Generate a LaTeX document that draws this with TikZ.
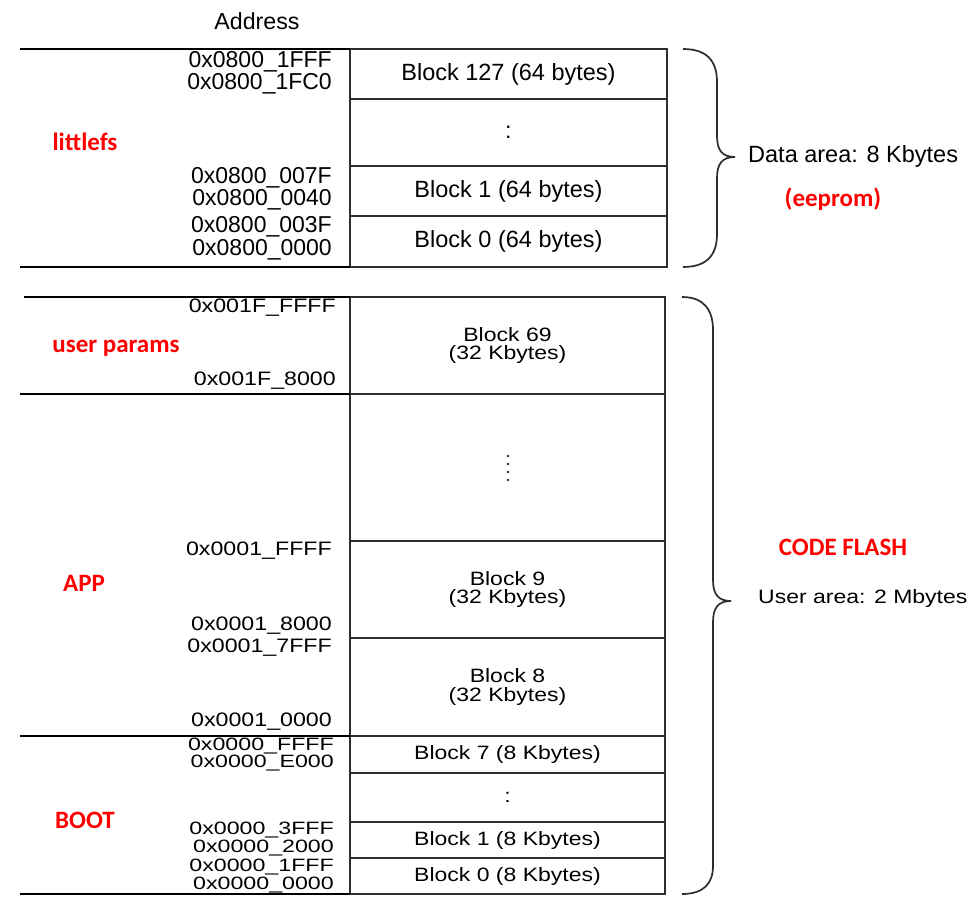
\documentclass[tikz,border=0pt]{standalone}
\usepackage{fontspec}
\usepackage{graphicx}
\setmainfont{Liberation Sans}
\newfontfamily\tagfont{Carlito}
\definecolor{boxgray}{RGB}{45,45,45}
\definecolor{tagred}{RGB}{255,0,0}
\newcommand\sq[1]{\scalebox{1}[0.84]{#1}}
\newcommand\sqa[1]{\scalebox{1}[0.77]{#1}}
\tikzset{
  rowbox/.style={draw=boxgray, line width=1.7pt, anchor=north west, inner sep=0pt, outer sep=0pt,
    align=center, font=\fontsize{23.5}{26}\selectfont},
  toprow/.style={rowbox, minimum width=317pt},
  lowrow/.style={rowbox, minimum width=315pt, font=\fontsize{23}{18.5}\selectfont},
  addr/.style={anchor=east, inner sep=0pt, font=\fontsize{23}{24}\selectfont},
  laddr/.style={anchor=east, inner sep=0pt, font=\fontsize{23.2}{24}\selectfont},
  tag/.style={inner sep=0pt, text=tagred, font=\tagfont\bfseries\fontsize{25}{28}\selectfont},
  note/.style={anchor=west, inner sep=0pt, font=\fontsize{23.5}{26}\selectfont},
  hline/.style={line width=2.2pt, black},
  brace/.style={line width=1.7pt, boxgray}
}
\begin{document}
\begin{tikzpicture}[x=1pt,y=-1pt]
\useasboundingbox[fill=white] (0,0) rectangle (969,902);

% ---- data flash (eeprom) ----
\node[inner sep=0pt, font=\fontsize{23.2}{26}\selectfont] (hdr) at (257,21) {Address};

\node[toprow, minimum height=50pt] (d127) at (350,49) {Block 127 (64 bytes)};
\node[toprow, minimum height=67pt] (ddots) at (350,99) {:};
\node[toprow, minimum height=50pt] (d1) at (350,166) {Block 1 (64 bytes)};
\node[toprow, minimum height=51pt] (d0) at (350,216) {Block 0 (64 bytes)};

\coordinate (dtopL) at (20,49);
\coordinate (dbotL) at (20,267);
\draw[hline] (dtopL) -- (d127.north west);
\draw[hline] (dbotL) -- (d0.south west);

\node[addr] (a1) at (332,62) {0x0800\_1FFF};
\node[addr] (a2) at (332,84) {0x0800\_1FC0};
\node[addr] (a3) at (332,178) {0x0800\_007F};
\node[addr] (a4) at (332,200) {0x0800\_0040};
\node[addr] (a5) at (332,227) {0x0800\_003F};
\node[addr] (a6) at (332,250) {0x0800\_0000};

\node[tag] (tlfs) at (85,142) {littlefs};

\coordinate (bd1) at (683,49);
\coordinate (bd2) at (683,267);
\coordinate (bdtip) at (735,157);
\draw[brace] (bd1) .. controls (706,49) and (717,60) .. (717,82)
  -- (717,136) .. controls (717,150) and (722,157) .. (bdtip)
  .. controls (722,157) and (717,164) .. (717,178)
  -- (717,234) .. controls (717,256) and (706,267) .. (bd2);
\node[note] (darea) at (748,156) {Data area: 8 Kbytes};
\node[tag] (teep) at (833,199) {(eeprom)};

% ---- code flash ----
\node[lowrow, minimum height=97pt] (c69) at (350,297) {\sq{Block 69}\\\sq{(32 Kbytes)}};
\node[lowrow, minimum height=147pt] (cdots) at (350,394) {};
\node[lowrow, minimum height=97pt] (c9) at (350,541) {\sq{Block 9}\\\sq{(32 Kbytes)}};
\node[lowrow, minimum height=98pt] (c8) at (350,638) {\sq{Block 8}\\\sq{(32 Kbytes)}};
\node[lowrow, minimum height=37pt] (c7) at (350,736) {\sq{Block 7 (8 Kbytes)}};
\node[lowrow, minimum height=49pt] (cdots2) at (350,773) {\sq{:}};
\node[lowrow, minimum height=36pt] (c1) at (350,822) {\sq{Block 1 (8 Kbytes)}};
\node[lowrow, minimum height=36pt] (c0) at (350,858) {\sq{Block 0 (8 Kbytes)}};

\foreach \yy in {456,464,472,480} \fill[boxgray] (508,\yy) circle (1.3pt);

\coordinate (ctopL) at (24,297);
\coordinate (cupL) at (20,394);
\coordinate (cappL) at (20,736);
\coordinate (cbotL) at (20,894);
\draw[hline] (ctopL) -- (c69.north west);
\draw[hline] (cupL) -- (c69.south west);
\draw[hline] (cappL) -- (c8.south west);
\draw[hline] (cbotL) -- (c0.south west);

\node[laddr] (b1) at (336,308) {\sq{0x001F\_FFFF}};
\node[laddr] (b2) at (336,381) {\sq{0x001F\_8000}};
\node[laddr] (b3) at (332,551) {\sq{0x0001\_FFFF}};
\node[laddr] (b4) at (332,626) {\sq{0x0001\_8000}};
\node[laddr] (b5) at (332,648) {\sq{0x0001\_7FFF}};
\node[laddr] (b6) at (332,722) {\sq{0x0001\_0000}};
\node[laddr] (b7) at (334,746) {\sqa{0x0000\_FFFF}};
\node[laddr] (b8) at (334,763) {\sqa{0x0000\_E000}};
\node[laddr] (b9) at (334,830) {\sqa{0x0000\_3FFF}};
\node[laddr] (b10) at (334,848) {\sqa{0x0000\_2000}};
\node[laddr] (b11) at (334,867) {\sqa{0x0000\_1FFF}};
\node[laddr] (b12) at (334,885) {\sqa{0x0000\_0000}};

\node[tag] (tup) at (116,348) {user params};
\node[tag] (tapp) at (84,583) {APP};
\node[tag] (tboot) at (85,820) {BOOT};

\coordinate (bc1) at (682,297);
\coordinate (bc2) at (682,894);
\coordinate (bctip) at (731,601);
\draw[brace] (bc1) .. controls (703,297) and (713,309) .. (713,330)
  -- (713,580) .. controls (713,594) and (718,601) .. (bctip)
  .. controls (718,601) and (713,608) .. (713,622)
  -- (713,866) .. controls (713,884) and (703,894) .. (bc2);
\node[tag] (tcode) at (843,547) {CODE FLASH};
\node[note, font=\fontsize{23}{26}\selectfont] (uarea) at (758,598) {\sq{User area: 2 Mbytes}};
\end{tikzpicture}
\end{document}
